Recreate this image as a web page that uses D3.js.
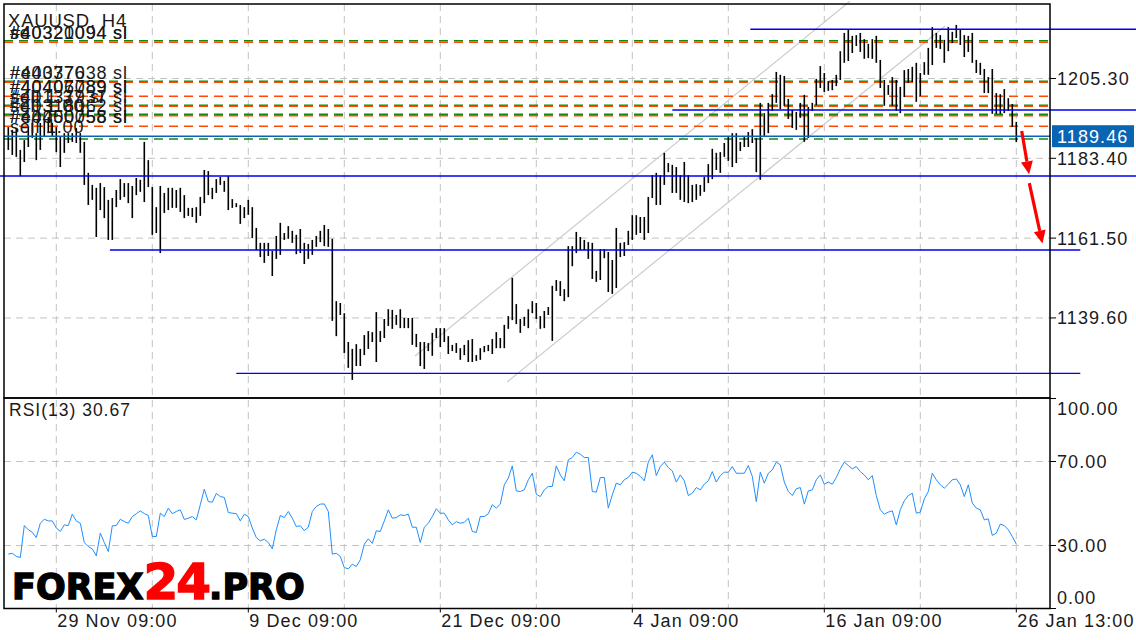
<!DOCTYPE html>
<html><head><meta charset="utf-8">
<script src="https://cdn.jsdelivr.net/npm/d3@7"></script>
<style>
body{margin:0;background:#fff;}
svg{display:block;font-family:"Liberation Sans",Arial,sans-serif;}
</style></head><body>
<svg id="c" width="1136" height="640"></svg>
<script>
const symbolTitle = "XAUUSD, H4";
const rsiTitle = "RSI(13) 30.67";
const barHigh = [1192.0,1191.2,1191.7,1185.7,1188.4,1192.0,1193.1,1190.3,1193.1,1193.9,1194.7,1193.1,1192.0,1189.3,1190.3,1190.3,1190.3,1191.7,1190.3,1187.9,
1179.4,1176.1,1175.3,1176.6,1175.5,1172.0,1172.5,1174.7,1177.7,1176.6,1176.6,1175.8,1178.0,1177.5,1187.9,1182.9,1175.5,1170.0,1175.8,1173.9,
1175.3,1175.3,1174.7,1175.3,1173.3,1169.8,1169.8,1170.0,1172.8,1180.2,1179.9,1175.3,1177.7,1178.3,1177.2,1178.5,1172.2,1171.1,1170.6,1170.0,
1172.0,1170.0,1164.3,1160.2,1160.2,1160.2,1158.0,1162.1,1165.7,1162.9,1164.8,1163.5,1162.4,1164.0,1160.2,1159.9,1161.0,1162.1,1163.5,1165.1,
1164.0,1161.3,1144.2,1143.7,1140.9,1133.0,1131.1,1132.4,1131.1,1134.9,1136.0,1135.7,1141.2,1136.0,1139.3,1142.0,1141.8,1140.4,1142.0,1139.6,
1139.6,1139.6,1135.2,1133.0,1133.0,1132.7,1135.5,1136.8,1136.8,1136.8,1134.6,1132.2,1132.7,1131.3,1132.2,1133.5,1133.8,1129.4,1131.3,1131.9,
1132.2,1133.8,1135.7,1134.1,1137.7,1140.1,1150.6,1143.4,1139.3,1139.9,1142.0,1144.2,1143.7,1140.1,1141.5,1142.6,1148.4,1150.0,1149.7,1147.5,
1159.3,1159.3,1163.2,1161.8,1161.0,1160.4,1160.2,1152.5,1158.5,1158.5,1157.7,1155.5,1164.3,1160.2,1160.4,1163.5,1167.8,1167.8,1167.3,1167.3,
1172.8,1178.8,1179.4,1178.8,1184.9,1182.1,1181.6,1181.0,1178.8,1182.4,1178.8,1176.1,1176.3,1176.1,1178.3,1181.8,1186.0,1184.9,1185.1,1187.6,
1189.3,1190.3,1190.3,1187.9,1189.3,1190.6,1191.4,1189.0,1198.6,1195.8,1198.6,1201.0,1207.1,1206.3,1206.0,1199.7,1196.7,1196.1,1198.6,1200.8,
1197.5,1198.6,1205.2,1208.7,1206.8,1204.6,1204.9,1206.3,1212.8,1217.8,1218.6,1217.0,1217.2,1217.8,1216.1,1214.8,1216.1,1217.0,1210.4,1204.9,
1203.5,1205.7,1204.9,1203.0,1207.6,1207.9,1208.5,1209.6,1206.8,1209.8,1213.7,1219.4,1217.8,1217.2,1215.9,1219.4,1218.1,1220.0,1218.6,1217.2,
1217.0,1217.8,1210.4,1209.6,1207.9,1205.7,1207.9,1201.3,1201.0,1202.4,1199.9,1198.3,1193.4];
const barLow = [1185.7,1184.3,1183.8,1178.5,1182.4,1186.5,1189.0,1182.9,1185.7,1189.3,1190.3,1189.3,1185.1,1181.0,1184.9,1187.6,1187.9,1187.6,1184.9,1176.1,
1170.6,1172.0,1161.8,1169.2,1167.0,1161.0,1161.0,1170.0,1172.0,1172.8,1171.1,1167.0,1173.3,1174.2,1171.4,1175.5,1162.4,1162.9,1157.4,1168.4,
1169.2,1169.8,1169.8,1168.7,1167.0,1167.6,1167.3,1165.7,1167.6,1171.1,1173.3,1172.2,1173.9,1176.1,1174.2,1169.2,1169.8,1170.0,1165.4,1167.0,
1167.9,1161.5,1158.2,1156.3,1154.7,1156.6,1151.1,1155.8,1156.9,1161.0,1161.3,1160.2,1157.1,1157.4,1154.4,1155.8,1156.9,1159.1,1160.4,1159.3,
1159.1,1138.8,1134.6,1140.4,1130.0,1125.9,1122.6,1126.4,1126.4,1129.4,1131.1,1133.0,1127.5,1133.0,1134.1,1137.4,1136.6,1137.7,1136.8,1136.8,
1136.8,1132.2,1131.6,1126.4,1125.6,1130.5,1129.2,1134.1,1131.6,1133.0,1129.7,1130.5,1130.0,1128.1,1129.4,1127.5,1127.5,1127.8,1128.1,1130.2,
1130.5,1129.7,1131.3,1131.3,1131.3,1136.6,1139.0,1137.9,1135.5,1137.4,1136.8,1140.9,1139.3,1136.6,1136.8,1140.4,1133.3,1147.0,1145.6,1144.2,
1145.3,1153.8,1157.4,1158.2,1158.2,1155.8,1150.3,1149.5,1150.0,1156.0,1146.7,1146.2,1147.8,1156.3,1156.6,1159.6,1161.0,1162.4,1162.9,1161.0,
1162.9,1172.5,1170.6,1170.6,1176.1,1179.6,1173.9,1173.9,1172.0,1171.4,1171.1,1171.4,1172.0,1173.1,1174.2,1176.6,1177.7,1180.2,1179.4,1183.8,
1182.7,1181.0,1182.1,1185.4,1186.5,1186.5,1187.6,1179.6,1177.5,1189.5,1190.3,1196.4,1198.6,1196.9,1197.8,1194.2,1191.7,1191.2,1194.5,1187.9,
1189.0,1196.4,1198.0,1202.7,1201.6,1201.9,1202.1,1203.2,1204.9,1209.6,1210.1,1212.3,1214.2,1212.6,1210.7,1210.9,1210.7,1209.6,1202.7,1197.8,
1200.8,1197.8,1196.4,1195.8,1200.2,1204.1,1204.3,1198.9,1200.5,1206.3,1206.3,1209.0,1213.7,1213.4,1209.6,1212.8,1215.0,1216.4,1214.5,1211.2,
1212.6,1209.6,1206.8,1206.3,1201.3,1201.3,1195.6,1195.6,1195.6,1195.8,1196.4,1192.0,1187.9];
const rsiValues = [25.9,26.3,24.8,24.3,39.5,37.5,36.3,33.8,40.6,42.5,41.7,41.7,38.3,36.7,39.8,39.5,44.9,41.7,40.6,31.4,
29.5,28.4,25.1,35.9,31.4,27.1,39.4,39.5,42.5,41.4,40.6,43.8,45.1,46.5,45.2,44.3,34.3,34.3,45.4,43.8,
47.8,45.1,46.2,47.0,42.4,43.0,43.8,42.2,49.4,56.8,50.9,50.6,54.8,53.3,52.9,45.7,45.4,45.2,41.7,44.9,
43.8,38.3,33.8,32.2,33.0,31.4,28.4,37.5,44.3,43.3,46.2,43.0,39.0,39.4,37.1,38.7,46.2,48.6,49.7,49.8,
46.2,25.9,26.3,24.8,19.5,18.9,21.1,20.0,23.2,30.6,33.2,31.0,37.0,36.7,41.7,47.0,43.0,43.3,44.6,44.3,
44.9,38.7,38.7,31.4,38.7,40.6,43.8,47.5,45.4,45.4,42.2,39.8,41.4,40.6,41.0,43.0,36.7,36.2,43.8,43.8,
45.1,49.4,47.8,49.7,58.9,62.1,67.9,56.0,55.7,56.5,61.3,64.4,54.4,53.3,56.5,58.1,58.1,67.9,63.6,60.8,
70.8,71.9,74.4,73.5,71.9,71.9,55.7,55.4,62.4,62.4,47.8,54.1,59.7,58.9,61.3,62.4,64.9,64.4,62.9,60.8,
69.7,73.2,63.3,67.6,69.7,67.1,65.5,60.2,63.6,60.8,53.8,54.9,57.6,56.5,59.2,60.8,65.2,60.2,63.3,64.9,
64.9,67.6,64.4,64.4,64.4,68.1,62.9,50.9,64.9,59.7,64.4,66.0,69.7,68.4,60.2,55.7,53.8,57.0,57.6,49.7,
56.0,56.5,61.3,63.6,59.2,60.2,59.2,62.4,66.5,69.7,68.1,66.5,67.6,65.2,63.6,61.3,63.3,53.8,47.0,44.9,
45.9,46.5,39.8,47.0,51.3,53.8,54.9,45.4,45.9,52.2,55.7,64.4,61.3,58.9,57.3,59.2,61.3,61.7,58.9,53.3,
58.9,50.2,47.8,47.0,42.2,42.7,34.8,35.9,40.2,39.5,37.5,34.3,30.67];
const priceTicks = [1205.30, 1183.40, 1161.50, 1139.60];
const rsiTicks = [100, 70, 30, 0];
const rsiGridLevels = [70, 30];
const dateLabels = ["29 Nov 09:00", "9 Dec 09:00", "21 Dec 09:00", "4 Jan 09:00", "16 Jan 09:00", "26 Jan 13:00"];
const dateLabelIndex = [12, 60, 108, 156, 204, 252];
const gridIndex = [12, 36, 60, 84, 108, 132, 156, 180, 204, 228, 252];
const currentPrice = 1189.46;
const stopLevels = [1215.23, 1204.26, 1200.41, 1197.67, 1195.09, 1192.18];
const profitLevels = [1215.67, 1204.53, 1197.95, 1195.48, 1188.70];
const orderLabelLevels = [1215.45, 1204.40, 1200.41, 1197.80, 1195.30, 1192.18, 1189.46];
const orderLabelTexts = [["#40320094 sl", "#40321094 sl", "se"], ["#40377638 sl", "#e40370"], ["#40406789 sl", "#40407089 sl"], ["#40137937 sl", "sell 1.37 sl"], ["#40318062 sl", "sell 1.00"], ["#40400758 sl", "#e4050058 sl"], ["sell 1.00"]];
// horizontal support / resistance lines: price, start bar index, end bar index
const levelPrices = [1218.80, 1196.66, 1178.55, 1158.24, 1124.40];
const levelStart = [185.5, 166, -3, 25.4, 57];
const levelEnd = [282, 282, 282, 268, 268];
// channel lines: [index, price] pairs
const channelUpper = [[101.7, 1129.15], [210.4, 1226.5]];
const channelLower = [[124.7, 1122.0], [234.2, 1219.7]];
// forecast arrows: [index, price] pairs
const arrowSegments = [[[253.35, 1190.9], [255.2, 1179.0]], [[255.25, 1176.6], [258.55, 1160.0]]];

const svg = d3.select("#c");
const L = 4, R = 1050, T = 4, MB = 398, RB = 608.5;
const x = d3.scaleLinear().domain([0, 252]).range([8.3, 1016.3]);
const y = d3.scaleLinear().domain([1117.63, 1225.74]).range([398, 4]);
const yr = d3.scaleLinear().domain([0, 100]).range([608.5, 398.5]);
const gridCol = "#c3c3c3";
const txt = "#1a1a1a";

// vertical grid
const gV = svg.append("g");
gridIndex.forEach(i => {
  gV.append("line").attr("x1", x(i)).attr("x2", x(i)).attr("y1", T).attr("y2", RB)
    .attr("stroke", gridCol).attr("stroke-width", 1).attr("stroke-dasharray", "7,5");
});
// horizontal grid main
priceTicks.forEach(p => {
  svg.append("line").attr("x1", L).attr("x2", R).attr("y1", y(p)).attr("y2", y(p))
    .attr("stroke", gridCol).attr("stroke-width", 1).attr("stroke-dasharray", "7,5");
});
rsiGridLevels.forEach(v => {
  svg.append("line").attr("x1", L).attr("x2", R).attr("y1", yr(v)).attr("y2", yr(v))
    .attr("stroke", gridCol).attr("stroke-width", 1).attr("stroke-dasharray", "7,5");
});

// channel lines
[channelUpper, channelLower].forEach(c => {
  svg.append("line").attr("x1", x(c[0][0])).attr("y1", y(c[0][1])).attr("x2", x(c[1][0])).attr("y2", y(c[1][1]))
    .attr("stroke", "#cccccc").attr("stroke-width", 1.2);
});

// order lines
profitLevels.forEach(p => {
  svg.append("line").attr("x1", L).attr("x2", R).attr("y1", y(p)).attr("y2", y(p))
    .attr("stroke", "#118a11").attr("stroke-width", 1.4).attr("stroke-dasharray", "9,6");
});
stopLevels.forEach(p => {
  svg.append("line").attr("x1", L).attr("x2", R).attr("y1", y(p)).attr("y2", y(p))
    .attr("stroke", "#ff4a00").attr("stroke-width", 1.4).attr("stroke-dasharray", "9,6");
});

// bars
svg.append("g").selectAll("line").data(barHigh).join("line")
  .attr("x1", (d, i) => x(i)).attr("x2", (d, i) => x(i))
  .attr("y1", d => y(d)).attr("y2", (d, i) => y(barLow[i]))
  .attr("stroke", "#000").attr("stroke-width", 1.6);

// current price line
svg.append("line").attr("x1", L).attr("x2", R).attr("y1", y(currentPrice)).attr("y2", y(currentPrice))
  .attr("stroke", "#0d62b8").attr("stroke-width", 1.5);

// support/resistance lines
levelPrices.forEach((p, k) => {
  svg.append("line").attr("x1", Math.max(0, x(levelStart[k]))).attr("x2", Math.min(1136, x(levelEnd[k])))
    .attr("y1", y(p)).attr("y2", y(p)).attr("stroke", "#0000ee").attr("stroke-width", 1.4);
});

// RSI line
svg.append("path").datum(rsiValues)
  .attr("d", d3.line().x((d, i) => x(i)).y(d => yr(d)))
  .attr("fill", "none").attr("stroke", "#1e8fff").attr("stroke-width", 1);

// frames
svg.append("rect").attr("x", L).attr("y", T).attr("width", R - L).attr("height", MB - T)
  .attr("fill", "none").attr("stroke", "#000").attr("stroke-width", 1.5);
svg.append("rect").attr("x", L).attr("y", MB).attr("width", R - L).attr("height", RB - MB)
  .attr("fill", "none").attr("stroke", "#000").attr("stroke-width", 1.5);

// right axis ticks and labels
const fs = "18px", ls = "1.1px";
priceTicks.forEach(p => {
  svg.append("line").attr("x1", R).attr("x2", R + 6).attr("y1", y(p)).attr("y2", y(p)).attr("stroke", "#000");
  svg.append("text").attr("x", R + 7).attr("y", y(p)).attr("dy", "0.36em")
    .attr("font-size", fs).attr("letter-spacing", ls).attr("fill", txt).text(p.toFixed(2));
});
rsiTicks.forEach(v => {
  svg.append("line").attr("x1", R).attr("x2", R + 6).attr("y1", yr(v)).attr("y2", yr(v)).attr("stroke", "#000");
  const off = v === 100 ? 10.5 : (v === 0 ? -10.5 : 0);
  svg.append("text").attr("x", R + 7).attr("y", yr(v) + off).attr("dy", "0.36em")
    .attr("font-size", fs).attr("letter-spacing", ls).attr("fill", txt).text(v.toFixed(2));
});
// current price box
const cy = y(currentPrice);
svg.append("rect").attr("x", R + 2).attr("y", cy - 11).attr("width", 82).attr("height", 22).attr("fill", "#0a64b4");
svg.append("text").attr("x", R + 7).attr("y", cy).attr("dy", "0.36em")
  .attr("font-size", fs).attr("letter-spacing", ls).attr("fill", "#fff").text(currentPrice.toFixed(2));

// bottom date labels
dateLabelIndex.forEach((i, k) => {
  svg.append("line").attr("x1", x(i)).attr("x2", x(i)).attr("y1", RB).attr("y2", RB + 4).attr("stroke", "#000");
  svg.append("text").attr("x", x(i) + 1).attr("y", 621).attr("dy", "0.36em")
    .attr("font-size", fs).attr("letter-spacing", ls).attr("fill", txt).text(dateLabels[k]);
});

// title and order labels
svg.append("text").attr("x", 8).attr("y", 26.5).attr("font-size", "18.5px").attr("letter-spacing", "0.8px")
  .attr("fill", txt).text(symbolTitle);
orderLabelLevels.forEach((p, k) => {
  orderLabelTexts[k].forEach(t => {
    svg.append("text").attr("x", 10).attr("y", y(p) - 3).attr("font-size", "18px").attr("letter-spacing", "0.8px")
      .attr("fill", txt).text(t);
  });
});
svg.append("text").attr("x", 9).attr("y", 416).attr("font-size", "17.5px").attr("letter-spacing", "1px")
  .attr("fill", txt).text(rsiTitle);

// arrows
arrowSegments.forEach(s => {
  const x1 = x(s[0][0]), y1 = y(s[0][1]), x2 = x(s[1][0]), y2 = y(s[1][1]);
  const a = Math.atan2(y2 - y1, x2 - x1), hl = 13, hw = 6;
  const bx = x2 - hl * Math.cos(a), by = y2 - hl * Math.sin(a);
  svg.append("line").attr("x1", x1).attr("y1", y1).attr("x2", bx).attr("y2", by)
    .attr("stroke", "#ff0000").attr("stroke-width", 3.2);
  const pts = [[x2, y2], [bx + hw * Math.sin(a), by - hw * Math.cos(a)], [bx - hw * Math.sin(a), by + hw * Math.cos(a)]];
  svg.append("polygon").attr("points", pts.map(p => p.join(",")).join(" ")).attr("fill", "#ff0000");
});

// logo
const logo = svg.append("text").attr("x", 12).attr("y", 599)
  .attr("font-family", "'DejaVu Sans', sans-serif").attr("font-weight", "bold");
logo.append("tspan").attr("font-size", "35px").attr("fill", "#000").attr("stroke", "#000").attr("stroke-width", 1.4).text("FOREX");
logo.append("tspan").attr("font-size", "50px").attr("fill", "#ff0000").attr("stroke", "#ff0000").attr("stroke-width", 1.4).attr("letter-spacing", "-2px").text("24");
logo.append("tspan").attr("font-size", "35px").attr("fill", "#000").attr("stroke", "#000").attr("stroke-width", 1.4).text(".PRO");
</script>
</body></html>
